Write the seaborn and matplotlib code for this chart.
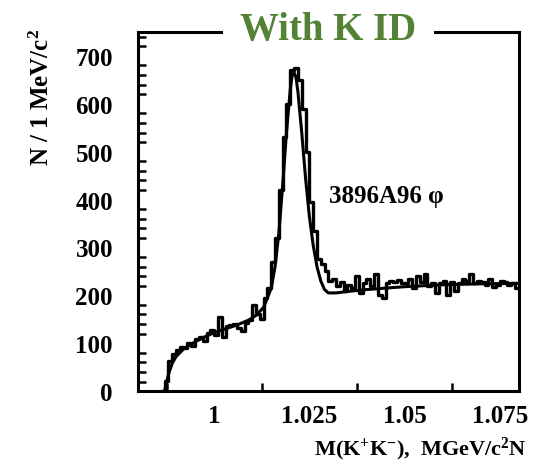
import numpy as np
import pandas as pd
import matplotlib
matplotlib.use("Agg")
import matplotlib.pyplot as plt
import seaborn as sns
from matplotlib.ticker import MultipleLocator

# ---- data ----
bin_start = 0.986   # lower edge of first bin (GeV), 1 MeV bins
counts = [0, 22, 62, 78, 85, 92, 90, 100, 95, 108, 112, 105, 122, 128, 118,
          155, 112, 135, 138, 140, 132, 125, 142, 148, 180, 160, 150, 195,
          215, 270, 320, 420, 530, 600, 670, 675, 650, 590, 500, 395, 335,
          275, 265, 250, 230, 235, 220, 228, 210, 222, 215, 240, 205, 225,
          235, 220, 245, 200, 195, 225, 230, 228, 232, 225, 225, 235, 215,
          240, 228, 245, 220, 225, 205, 225, 230, 200, 228, 210, 225, 235,
          230, 245, 225, 230, 228, 222, 235, 218, 222, 230, 228, 222, 225, 215]

fit_x = [0.987, 0.988, 0.989, 0.990, 0.992, 0.995, 0.998, 1.000, 1.003,
         1.006, 1.009, 1.011, 1.013, 1.015, 1.016, 1.017, 1.018, 1.019,
         1.020, 1.0205, 1.021, 1.0215, 1.022, 1.023, 1.024, 1.025, 1.026,
         1.027, 1.028, 1.029, 1.030, 1.032, 1.035, 1.040, 1.050, 1.060,
         1.070, 1.080]
fit_y = [0, 35, 58, 72, 88, 103, 115, 122, 130, 138, 148, 158, 175, 215,
         260, 330, 430, 540, 630, 660, 665, 655, 625, 540, 445, 365, 305,
         260, 230, 212, 205, 205, 208, 212, 218, 222, 224, 225]

title = "With K ID"
annotation = "3896A96 φ"
xticks = [1.0, 1.025, 1.05, 1.075]
xtick_labels = ["1", "1.025", "1.05", "1.075"]
yticks = [0, 100, 200, 300, 400, 500, 600, 700]

# ---- build ----
nb = len(counts)
bw = 0.001
centers = bin_start + bw * (np.arange(nb) + 0.5)
df = pd.DataFrame({"m": centers, "n": np.array(counts, dtype=float)})
fit = pd.DataFrame({"m": fit_x, "y": fit_y})

sns.set_theme(style="white")
plt.rcParams["font.family"] = ["Liberation Serif", "DejaVu Serif"]
plt.rcParams["font.weight"] = "bold"
plt.rcParams["text.color"] = "black"
plt.rcParams["axes.labelcolor"] = "black"
plt.rcParams["xtick.color"] = "black"
plt.rcParams["ytick.color"] = "black"
plt.rcParams["mathtext.fontset"] = "custom"
plt.rcParams["mathtext.rm"] = "Liberation Serif:bold"
plt.rcParams["mathtext.it"] = "Liberation Serif:bold"
plt.rcParams["mathtext.bf"] = "Liberation Serif:bold"

fig = plt.figure(figsize=(5.41, 4.64), dpi=100)
ax = fig.add_axes([0.255, 0.155, 0.704, 0.774])

sns.histplot(data=df, x="m", weights="n", binwidth=bw,
             binrange=(bin_start, bin_start + nb * bw), element="step",
             fill=False, color="black", linewidth=2.4, ax=ax)
sns.lineplot(data=fit, x="m", y="y", sort=False, color="black",
             linewidth=2.2, ax=ax)

ax.set_xlim(0.98, 1.08)
ax.set_ylim(0, 750)

ax.set_xticks(xticks)
ax.set_xticklabels(xtick_labels)
ax.set_yticks(yticks)
ax.xaxis.set_minor_locator(MultipleLocator(0.0125))
ax.yaxis.set_minor_locator(MultipleLocator(20))

ax.tick_params(axis="both", which="both", direction="in", top=False,
               right=False, color="black", labelcolor="black")
ax.tick_params(axis="y", which="major", length=12, width=1.8, pad=18,
               labelsize=18)
ax.tick_params(axis="y", which="minor", length=6, width=1.8, left=True)
ax.tick_params(axis="x", which="major", length=12, width=1.8, pad=9,
               labelsize=18)
ax.tick_params(axis="x", which="minor", length=6, width=1.8, bottom=True)
for lbl in ax.get_xticklabels() + ax.get_yticklabels():
    lbl.set_fontweight("bold")

for sp in ax.spines.values():
    sp.set_color("black")
    sp.set_linewidth(2.2)
    sp.set_visible(True)

ax.set_xlabel(r"M(K$^{+}$K$^{-}$),  MGeV/c$^{2}$N", fontsize=16,
              fontweight="bold", ha="right", va="center", color="black")
ax.xaxis.set_label_coords(1.02, -0.159)
ax.set_ylabel(r"N / 1 MeV/c$^{2}$", fontsize=18, fontweight="bold",
              va="center", color="black")
ax.yaxis.set_label_coords(-0.252, 0.82)

ax.text(0.5, 1.008, " " + title + " ", transform=ax.transAxes,
        ha="center", va="center", fontsize=28, fontweight="bold",
        color="#548235", zorder=10, clip_on=False,
        bbox=dict(facecolor="white", edgecolor="none",
                  boxstyle="square,pad=0.2"))

ax.text(1.0301, 409, annotation, fontsize=18, fontweight="bold",
        ha="left", va="center", color="black")

fig.savefig("out.png", dpi=100, facecolor="white")
